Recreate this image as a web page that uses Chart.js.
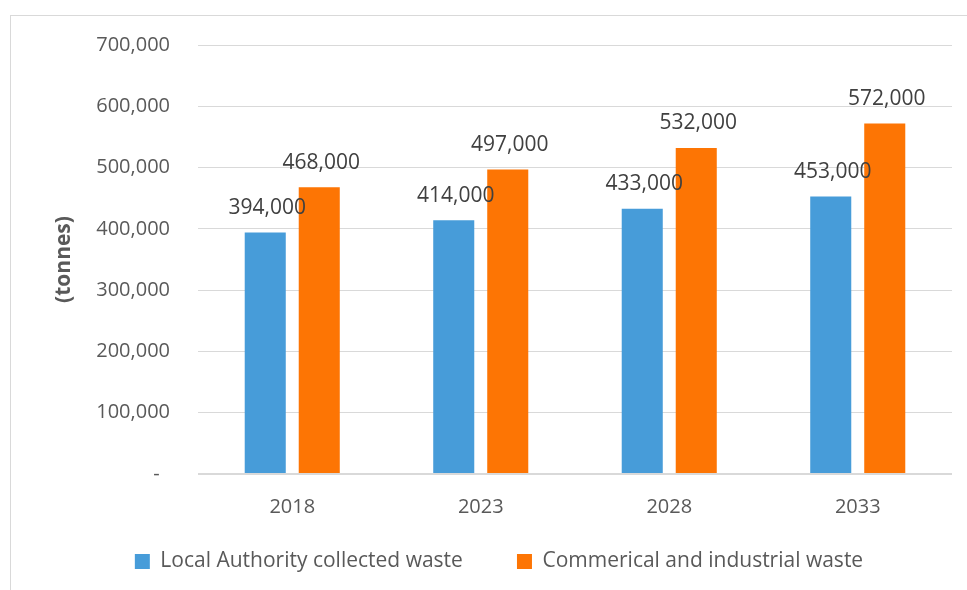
<!DOCTYPE html>
<html>
<head>
<meta charset="utf-8">
<script src="https://cdn.jsdelivr.net/npm/chart.js@4.4.1/dist/chart.umd.min.js"></script>
<style>
  html, body { margin: 0; padding: 0; background: #fff; overflow: hidden; }
  #frame { position: absolute; left: 10px; top: 15px; width: 1000px; height: 1000px; border: 1px solid #d9d9d9; }
  #chart { position: absolute; left: 0; top: 0; }
</style>
</head>
<body>
<div id="frame"></div>
<canvas id="chart" width="967" height="590"></canvas>
<script>
const years = ["2018", "2023", "2028", "2033"];
const localAuthority = [394000, 414000, 433000, 453000];
const commercialIndustrial = [468000, 497000, 532000, 572000];
const seriesNames = ["Local Authority collected waste", "Commerical and industrial waste"];
const yTicks = [0, 100000, 200000, 300000, 400000, 500000, 600000, 700000];

const FONT = "'Open Sans', Lato, sans-serif";

// value labels above each bar
const barLabels = {
    id: 'barLabels',
    afterDatasetsDraw(chart) {
        const ctx = chart.ctx;
        ctx.save();
        ctx.font = "21px " + FONT;
        ctx.fillStyle = "#404040";
        ctx.textAlign = "center";
        ctx.textBaseline = "bottom";
        chart.data.datasets.forEach((ds, i) => {
            chart.getDatasetMeta(i).data.forEach((bar, j) => {
                ctx.fillText(ds.data[j].toLocaleString('en-US'), bar.x + 2, bar.y - 14);
            });
        });
        ctx.restore();
    }
};

const ctx = document.getElementById("chart").getContext("2d");
new Chart(ctx, {
    type: 'bar',
    data: {
        labels: years,
        datasets: [{
            label: seriesNames[0],
            data: localAuthority,
            backgroundColor: "#479cd9"
        }, {
            label: seriesNames[1],
            data: commercialIndustrial,
            backgroundColor: "#fd7504"
        }]
    },
    options: {
        responsive: false,
        animation: false,
        categoryPercentage: 0.573,
        barPercentage: 0.76,
        layout: { padding: { left: 46, right: 15, top: 45, bottom: 8 } },
        plugins: {
            tooltip: { enabled: false },
            legend: {
                position: 'bottom',
                labels: {
                    color: "#595959",
                    font: { family: FONT, size: 21 },
                    boxWidth: 15,
                    boxHeight: 15,
                    padding: 5,
                    // wide gap between the two entries, like the original
                    generateLabels: (chart) => {
                        const items = Chart.defaults.plugins.legend.labels.generateLabels(chart);
                        items[0].text = items[0].text + "         ";
                        return items;
                    }
                }
            }
        },
        scales: {
            x: {
                grid: { display: false },
                border: { display: false },
                ticks: { color: "#595959", font: { family: FONT, size: 20 }, padding: 13 },
                afterFit: (scale) => { scale.height = 72; }
            },
            y: {
                min: 0,
                max: 700000,
                afterBuildTicks: (scale) => { scale.ticks = yTicks.map(v => ({ value: v })); },
                afterFit: (scale) => { scale.width = 152; },
                border: { display: false },
                grid: {
                    color: "#d9d9d9",
                    lineWidth: (c) => c.tick && c.tick.value === 0 ? 2 : 1,
                    drawTicks: false
                },
                ticks: {
                    color: "#595959",
                    font: { family: FONT, size: 20 },
                    padding: 28,
                    callback: (v) => v === 0 ? "-  " : v.toLocaleString('en-US')
                },
                title: {
                    display: true,
                    text: "(tonnes)",
                    color: "#595959",
                    font: { family: FONT, size: 21, weight: 'bold' },
                    padding: { top: 5, bottom: 0 }
                }
            }
        }
    },
    plugins: [barLabels]
});
</script>
</body>
</html>
